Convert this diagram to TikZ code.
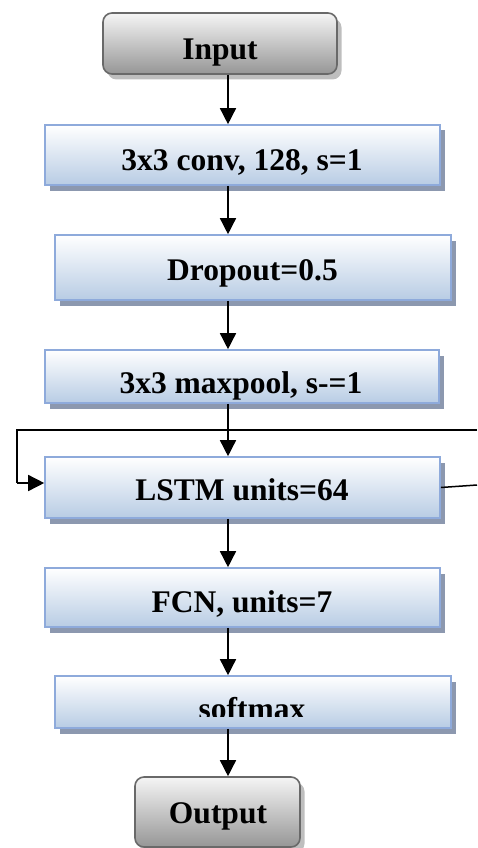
\documentclass[tikz,border=0pt]{standalone}
\usepackage{fontspec}
\setmainfont{Liberation Serif}
\usetikzlibrary{arrows.meta,shadows}
\definecolor{boxborder}{RGB}{142,170,219}
\definecolor{boxfill}{RGB}{184,204,228}
\definecolor{shadowblue}{RGB}{140,152,175}
\definecolor{grayborder}{RGB}{105,105,105}
\definecolor{grayfill}{RGB}{150,150,150}
\definecolor{shadowgray}{RGB}{190,190,190}
\tikzset{
  bluebox/.style={draw=boxborder, line width=1.6pt, top color=white, bottom color=boxfill,
    inner sep=0pt, drop shadow={shadow xshift=4.5pt, shadow yshift=-5.5pt, fill=shadowblue, opacity=1}},
  graybox/.style={draw=grayborder, line width=1.6pt, rounded corners=9pt, top color=white!96!black, bottom color=grayfill,
    inner sep=0pt, drop shadow={shadow xshift=4.5pt, shadow yshift=-5.5pt, fill=shadowgray, opacity=1}},
  lbl/.style={font=\bfseries\fontsize{31.5}{36}\selectfont, inner sep=0pt, anchor=base},
  arr/.style={line width=1.5pt, -{Triangle[length=16pt,width=16pt]}},
  plain/.style={line width=1.5pt}
}
\begin{document}
\begin{tikzpicture}[x=1pt,y=-1pt]
\useasboundingbox (0,0) rectangle (477,848);
% boxes
\node[graybox, minimum width=234pt, minimum height=61pt] (inp) at (220,43.5) {};
\node[bluebox, minimum width=395pt, minimum height=60pt] (conv) at (242.5,155) {};
\node[bluebox, minimum width=396pt, minimum height=65pt] (drop) at (253,267.5) {};
\node[bluebox, minimum width=394pt, minimum height=53pt] (pool) at (242,376.5) {};
\node[bluebox, minimum width=395pt, minimum height=61pt] (lstm) at (242.5,487.5) {};
\node[bluebox, minimum width=395pt, minimum height=59pt] (fcn) at (242.5,597.5) {};
\node[bluebox, minimum width=396pt, minimum height=52pt] (soft) at (253,702) {};
\node[graybox, minimum width=165pt, minimum height=70pt] (out) at (217.5,812) {};
% labels
\node[lbl] (tinp) at (220,60) {Input};
\node[lbl] (tconv) at (242,170) {3x3 conv, 128, s=1};
\node[lbl] (tdrop) at (252.5,280) {Dropout=0.5};
\node[lbl] (tpool) at (241,393) {3x3 maxpool, s-=1};
\node[lbl] (tlstm) at (242,500) {LSTM units=64};
\node[lbl] (tfcn) at (242,612) {FCN, units=7};
\begin{scope}
\clip (55,676) rectangle (451,716.5);
\node[lbl] (tsoft) at (252,719) {softmax};
\end{scope}
\node[lbl] (tout) at (218,823) {Output};
% connectors
\coordinate (ax) at (228,0);
\draw[arr] (inp.south -| ax) -- (conv.north -| ax);
\draw[arr] (conv.south -| ax) -- (drop.north -| ax);
\draw[arr] (drop.south -| ax) -- (pool.north -| ax);
\draw[arr] (pool.south -| ax) -- (lstm.north -| ax);
\draw[arr] (lstm.south -| ax) -- (fcn.north -| ax);
\draw[arr] (fcn.south -| ax) -- (soft.north -| ax);
\draw[arr] (soft.south -| ax) -- (out.north -| ax);
% feedback loop
\coordinate (fbR) at (477,430);
\coordinate (fbL) at (17,430);
\coordinate (fbB) at (17,483);
\coordinate (rEnd) at (477,485);
\draw[plain] (fbR) -- (fbL) -- (fbB);
\draw[arr] (fbB) -- (lstm.west |- fbB);
\draw[plain] (lstm.east) -- (rEnd);
\end{tikzpicture}
\end{document}
